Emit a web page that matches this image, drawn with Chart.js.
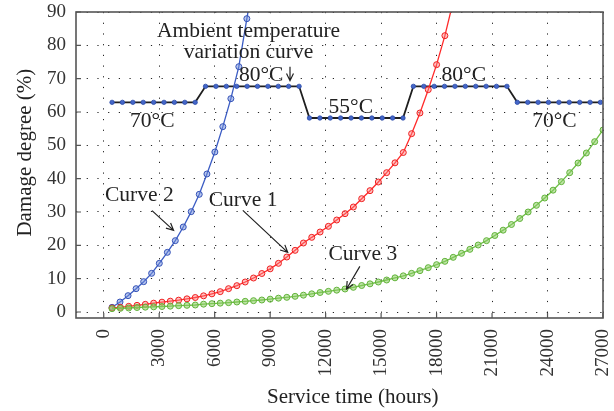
<!DOCTYPE html>
<html>
<head>
<meta charset="utf-8">
<script src="https://cdn.jsdelivr.net/npm/chart.js@4.4.1/dist/chart.umd.min.js"></script>
<style>
  html, body { margin: 0; padding: 0; background: #fff; }
  #wrap { width: 614px; height: 411px; }
</style>
</head>
<body>
<div id="wrap"><canvas id="chart" width="614" height="411"></canvas></div>
<script>
const xTicks = [0, 3000, 6000, 9000, 12000, 15000, 18000, 21000, 24000, 27000];
const yTicks = [0, 10, 20, 30, 40, 50, 60, 70, 80, 90];

// sample times shared by curve 1 and curve 3 (hours)
const hours = [450, 900, 1350, 1800, 2250, 2700, 3150, 3600, 4050, 4500,
  4950, 5400, 5850, 6300, 6750, 7200, 7650, 8100, 8550, 9000,
  9450, 9900, 10350, 10800, 11250, 11700, 12150, 12600, 13050, 13500,
  13950, 14400, 14850, 15300, 15750, 16200, 16650, 17100, 17550, 18000,
  18450, 18900, 19350, 19800, 20250, 20700, 21150, 21600, 22050, 22500,
  22950, 23400, 23850, 24300, 24750, 25200, 25650, 26100, 26550, 27000];

const curve1 = [1.2, 1.4, 1.7, 2.0, 2.3, 2.65, 2.95, 3.25, 3.55, 3.95,
  4.35, 4.85, 5.45, 6.1, 7.0, 7.9, 9.0, 10.2, 11.55, 12.95,
  14.6, 16.5, 18.5, 20.7, 22.4, 24.0, 25.7, 27.6, 29.5, 31.5,
  34.0, 36.4, 39.0, 41.8, 44.75, 47.85, 53.5, 59.7, 66.7, 74.2,
  82.9, 93.2];

const curve3 = [1.0, 1.1, 1.2, 1.35, 1.45, 1.55, 1.65, 1.75, 1.9, 2.0,
  2.1, 2.35, 2.5, 2.65, 2.8, 3.0, 3.2, 3.4, 3.6, 3.85,
  4.15, 4.4, 4.7, 5.05, 5.45, 5.85, 6.2, 6.55, 6.9, 7.4,
  7.95, 8.45, 9.0, 9.6, 10.25, 10.85, 11.6, 12.4, 13.3, 14.2,
  15.2, 16.4, 17.6, 18.8, 20.1, 21.4, 22.95, 24.55, 26.25, 28.05,
  30.0, 32.0, 34.2, 36.55, 39.1, 41.8, 44.7, 47.7, 51.1, 54.6];

const curve2Hours = [450, 880, 1315, 1750, 2160, 2590, 3005, 3440, 3870, 4300,
  4730, 5165, 5580, 6010, 6440, 6875, 7305, 7740, 8170];
const curve2 = [1.4, 3.0, 4.9, 7.0, 9.1, 11.6, 14.6, 17.9, 21.4, 25.5,
  30.1, 35.3, 41.4, 48.0, 55.6, 64.0, 73.6, 88.0, 102];

// ambient temperature profile, drawn on the damage scale
const ambientHours = [450, 1010, 1575, 2135, 2700, 3260, 3820, 4385, 4945,
  5505, 6070, 6630, 7190, 7755, 8315, 8880, 9440, 10000, 10565,
  11125, 11690, 12250, 12810, 13375, 13935, 14500, 15060, 15620, 16185,
  16745, 17310, 17870, 18430, 18995, 19555, 20120, 20680, 21240, 21805,
  22365, 22930, 23490, 24050, 24615, 25175, 25740, 26300, 26860];
const ambientLevel = [62.9, 62.9, 62.9, 62.9, 62.9, 62.9, 62.9, 62.9, 62.9,
  67.7, 67.7, 67.7, 67.7, 67.7, 67.7, 67.7, 67.7, 67.7, 67.7,
  58.2, 58.2, 58.2, 58.2, 58.2, 58.2, 58.2, 58.2, 58.2, 58.2,
  67.7, 67.7, 67.7, 67.7, 67.7, 67.7, 67.7, 67.7, 67.7, 67.7,
  62.9, 62.9, 62.9, 62.9, 62.9, 62.9, 62.9, 62.9, 62.9];

const serif = "'Liberation Serif', 'DejaVu Serif', serif";

function pts(xs, ys) {
  return ys.map((v, i) => ({ x: xs[i], y: v }));
}

const whiteBg = {
  id: 'whiteBg',
  beforeDraw(chart) {
    const ctx = chart.ctx;
    ctx.save();
    ctx.fillStyle = '#fff';
    ctx.fillRect(0, 0, chart.width, chart.height);
    ctx.restore();
  }
};

const notes = {
  id: 'notes',
  afterDatasetsDraw(chart) {
    const { ctx, chartArea: a, scales: { x, y } } = chart;
    ctx.save();
    ctx.setLineDash([]);

    // frame + inward ticks
    ctx.strokeStyle = '#555';
    ctx.lineWidth = 1.6;
    ctx.strokeRect(a.left, a.top, a.right - a.left, a.bottom - a.top);
    ctx.lineWidth = 1.2;
    ctx.beginPath();
    xTicks.forEach(v => {
      const px = x.getPixelForValue(v);
      ctx.moveTo(px, a.bottom);
      ctx.lineTo(px, a.bottom - 5);
    });
    yTicks.forEach(v => {
      const py = y.getPixelForValue(v);
      ctx.moveTo(a.left, py);
      ctx.lineTo(a.left + 5, py);
    });
    ctx.stroke();

    // axis titles (slightly off-centre in the original)
    ctx.fillStyle = '#222';
    ctx.font = '21px ' + serif;
    ctx.textAlign = 'center';
    ctx.textBaseline = 'middle';
    ctx.fillText('Service time (hours)', x.getPixelForValue(13470), a.bottom + 79);
    ctx.save();
    ctx.translate(25, y.getPixelForValue(47.8));
    ctx.rotate(-Math.PI / 2);
    ctx.fillText('Damage degree (%)', 0, 0);
    ctx.restore();

    // labels
    ctx.font = '21.5px ' + serif;
    ctx.textBaseline = 'alphabetic';
    const text = (s, hx, v) => ctx.fillText(s, x.getPixelForValue(hx), y.getPixelForValue(v));
    text('Ambient temperature', 7830, 82.6);
    text('variation curve', 7830, 76.2);
    text('80°C', 8510, 69.4);
    text('70°C', 2628, 55.6);
    text('55°C', 13360, 59.8);
    text('80°C', 19470, 69.4);
    text('70°C', 24370, 55.6);
    text('Curve 2', 1926, 33.2);
    text('Curve 1', 7537, 31.9);
    text('Curve 3', 14010, 15.7);

    // arrows
    ctx.strokeStyle = '#222';
    ctx.lineWidth = 1.2;
    const arrow = (h0, v0, h1, v1) => {
      const x0 = x.getPixelForValue(h0), y0 = y.getPixelForValue(v0);
      const x1 = x.getPixelForValue(h1), y1 = y.getPixelForValue(v1);
      const ang = Math.atan2(y1 - y0, x1 - x0);
      const len = 8, spread = 0.45;
      ctx.beginPath();
      ctx.moveTo(x0, y0);
      ctx.lineTo(x1, y1);
      ctx.moveTo(x1 - len * Math.cos(ang - spread), y1 - len * Math.sin(ang - spread));
      ctx.lineTo(x1, y1);
      ctx.lineTo(x1 - len * Math.cos(ang + spread), y1 - len * Math.sin(ang + spread));
      ctx.stroke();
    };
    arrow(10073, 73.6, 10073, 69.4);
    arrow(2610, 30.4, 3777, 24.5);
    arrow(7522, 30.5, 9950, 17.9);
    arrow(13850, 13.7, 13130, 6.9);

    ctx.restore();
  }
};

new Chart(document.getElementById('chart'), {
  type: 'line',
  data: {
    datasets: [
      {
        label: 'Curve 3',
        data: pts(hours, curve3),
        borderColor: '#6dbd45',
        borderWidth: 1.3,
        pointRadius: 3,
        pointBorderWidth: 1,
        pointBorderColor: '#62b43a',
        pointBackgroundColor: 'rgba(140,205,100,0.55)',
        tension: 0
      },
      {
        label: 'Curve 1',
        data: pts(hours.slice(0, curve1.length), curve1),
        borderColor: '#ff2a2a',
        borderWidth: 1.3,
        pointRadius: 3,
        pointBorderWidth: 1,
        pointBorderColor: '#f02020',
        pointBackgroundColor: 'rgba(255,120,120,0.45)',
        tension: 0
      },
      {
        label: 'Curve 2',
        data: pts(curve2Hours, curve2),
        borderColor: '#3b5cc4',
        borderWidth: 1.3,
        pointRadius: 3,
        pointBorderWidth: 1,
        pointBorderColor: '#3553b8',
        pointBackgroundColor: 'rgba(110,140,220,0.5)',
        tension: 0
      },
      {
        label: 'Ambient temperature',
        data: pts(ambientHours, ambientLevel),
        borderColor: '#1e1e1e',
        borderWidth: 1.8,
        pointRadius: 2.2,
        pointBorderWidth: 0.8,
        pointBorderColor: '#2a4aa8',
        pointBackgroundColor: '#4466c8',
        tension: 0
      }
    ]
  },
  options: {
    responsive: false,
    devicePixelRatio: 1,
    animation: false,
    layout: { padding: { top: 12, right: 11, left: 0, bottom: 0 } },
    plugins: {
      legend: { display: false },
      tooltip: { enabled: false }
    },
    scales: {
      x: {
        type: 'linear',
        min: -1500,
        max: 27000,
        afterBuildTicks: s => { s.ticks = xTicks.map(v => ({ value: v })); },
        afterFit: s => {
          s.height = 93;
          s.paddingLeft = 0;
          s.paddingRight = 0;
        },
        grid: { color: '#222', lineWidth: 1, drawTicks: false },
        border: { display: false, dash: [1.2, 9.5] },
        ticks: {
          minRotation: 90,
          maxRotation: 90,
          padding: 11,
          color: '#333',
          font: { family: serif, size: 19 },
          callback: v => String(v)
        }
      },
      y: {
        min: -1.8,
        max: 90,
        afterBuildTicks: s => { s.ticks = yTicks.map(v => ({ value: v })); },
        afterFit: s => {
          s.width = 76;
          s.paddingTop = 0;
          s.paddingBottom = 0;
        },
        grid: { color: '#222', lineWidth: 1, drawTicks: false },
        border: { display: false, dash: [1.2, 9.5] },
        ticks: {
          padding: 10,
          color: '#333',
          font: { family: serif, size: 19 },
          callback: v => String(v)
        }
      }
    }
  },
  plugins: [whiteBg, notes]
});
</script>
</body>
</html>
